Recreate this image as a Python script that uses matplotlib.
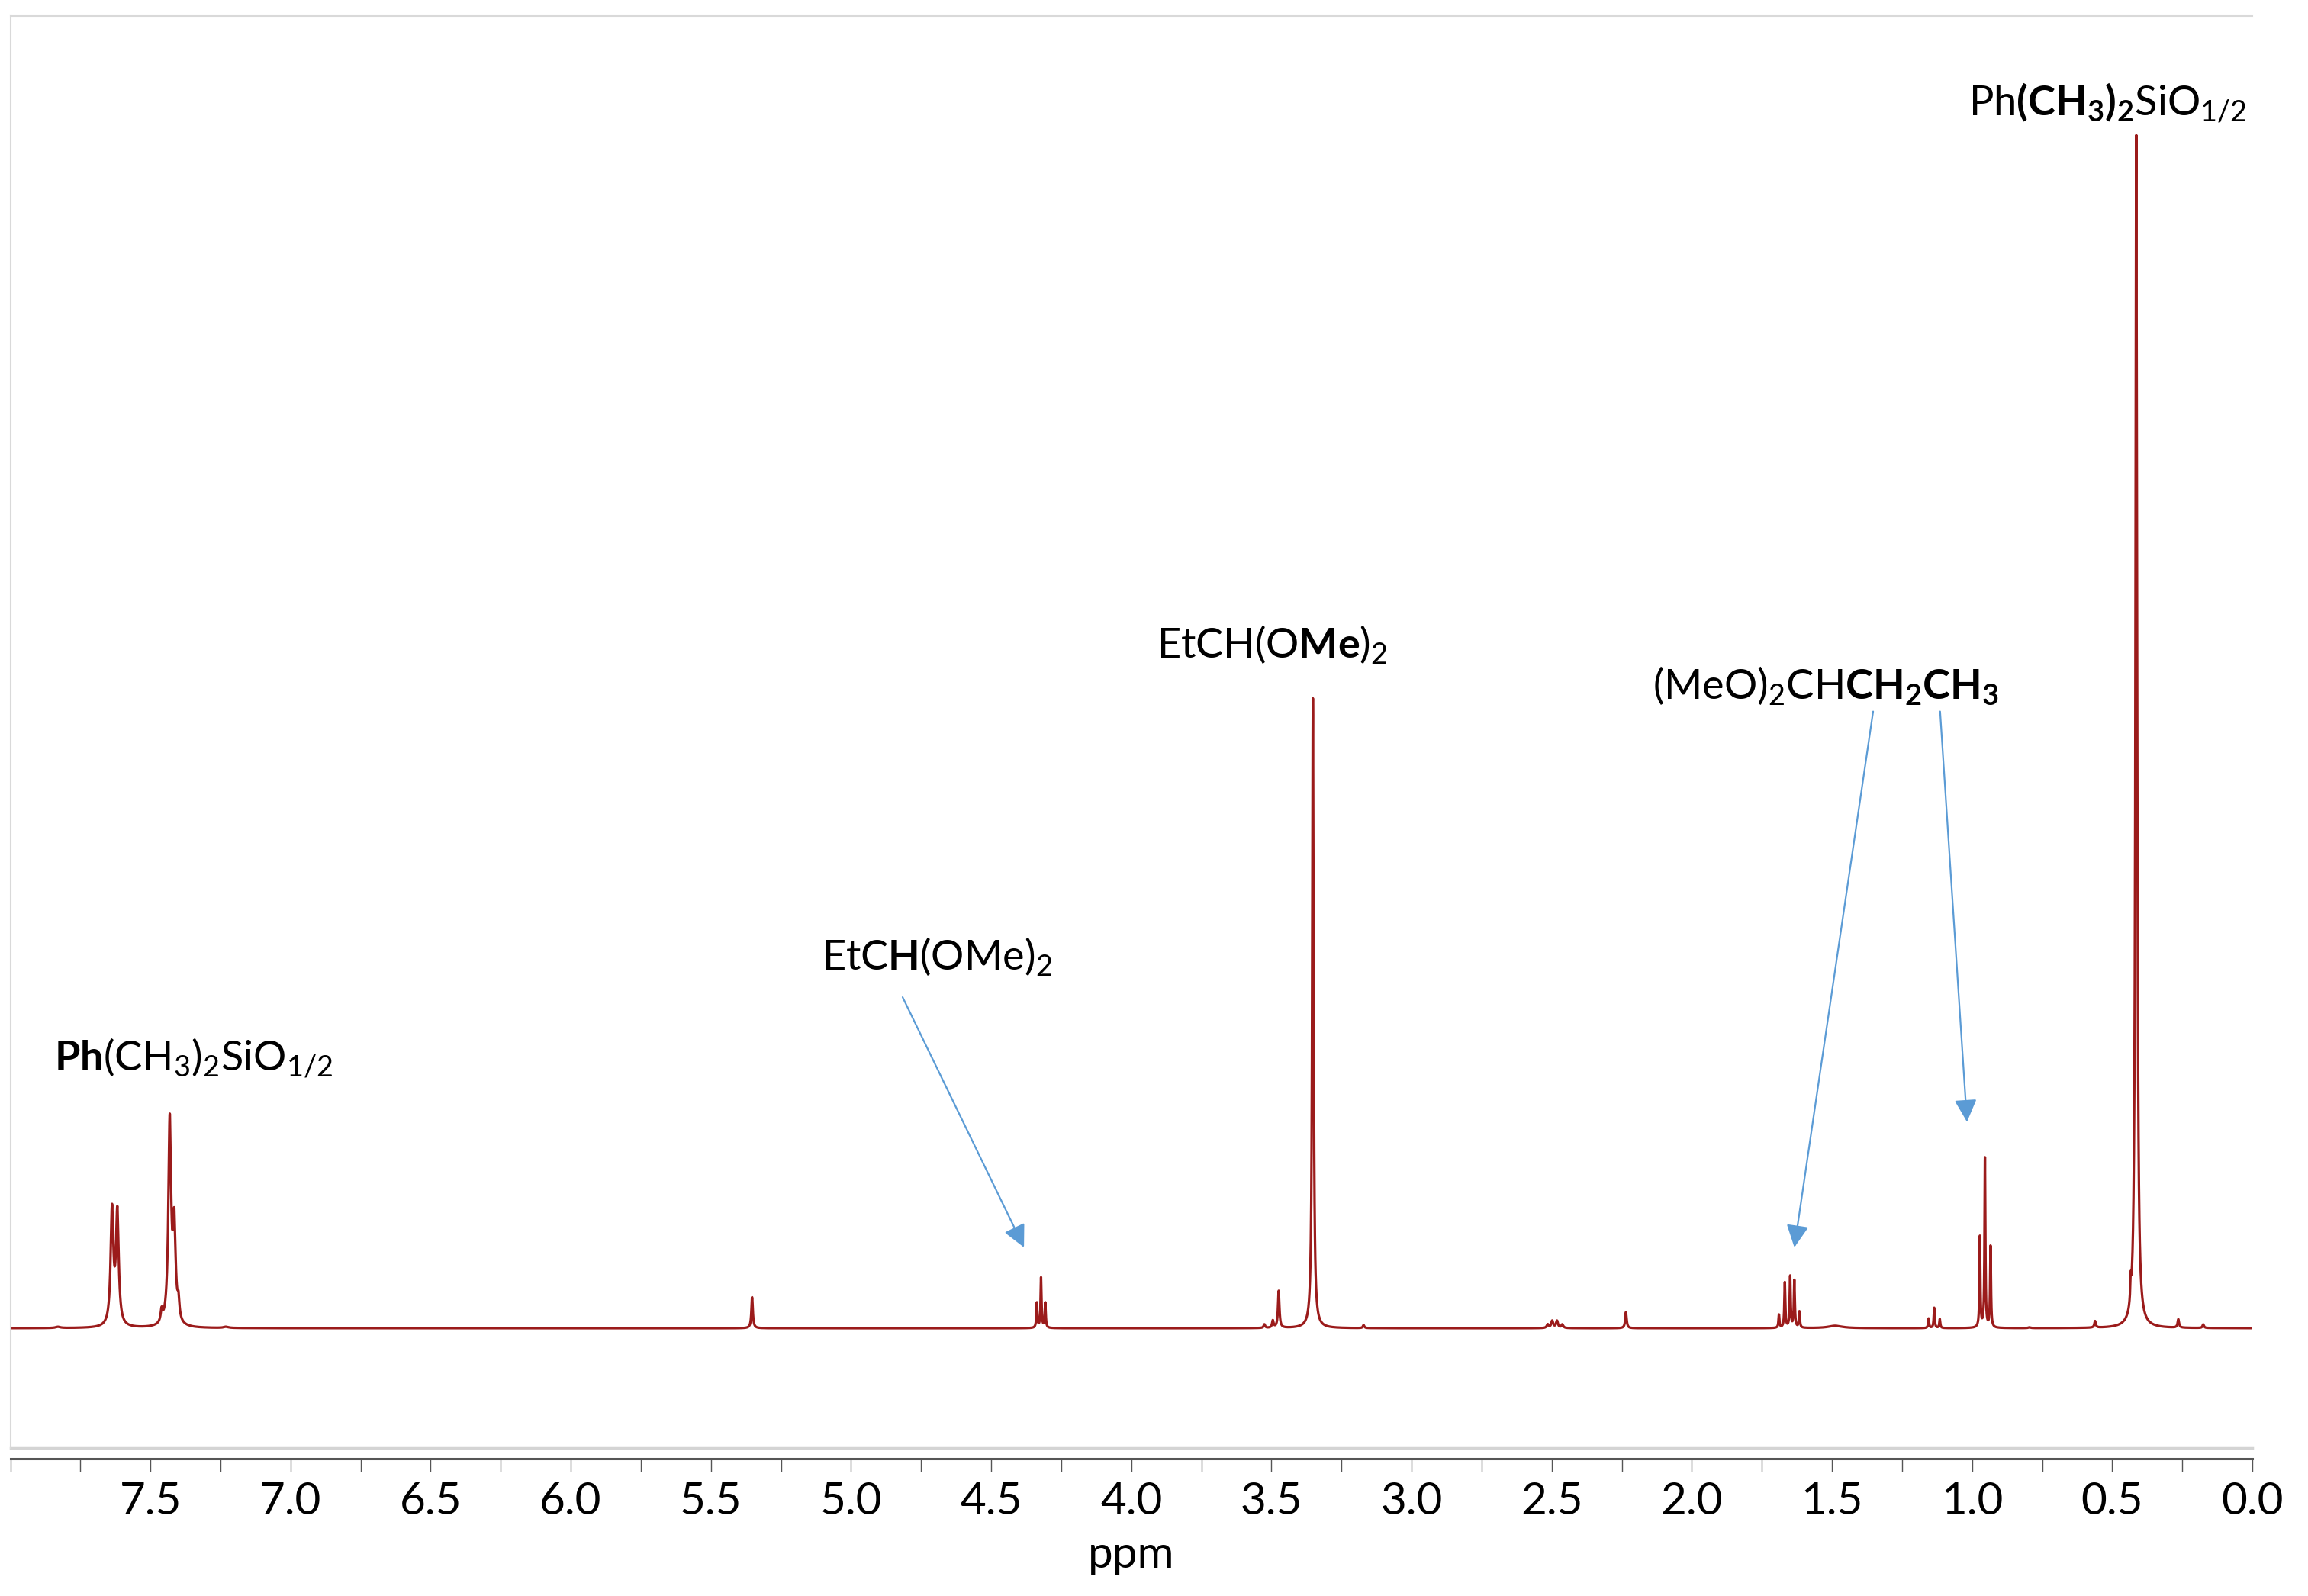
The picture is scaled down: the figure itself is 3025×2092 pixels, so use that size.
import numpy as np
import matplotlib
matplotlib.use("Agg")
import matplotlib.pyplot as plt

plt.rcParams['font.family'] = ['Lato', 'DejaVu Sans']
plt.rcParams['mathtext.fontset'] = 'custom'
plt.rcParams['mathtext.rm'] = 'Lato'
plt.rcParams['mathtext.bf'] = 'Lato:bold'
plt.rcParams['mathtext.it'] = 'Lato:italic'

# peak list: shift (ppm), height (% of largest), half width (ppm)
peak_ppm = [7.83, 7.637, 7.618, 7.46, 7.431, 7.415, 7.40, 7.23,
            5.353,
            4.337, 4.322, 4.307,
            3.525, 3.495, 3.474, 3.352, 3.171,
            2.514, 2.498, 2.481, 2.462, 2.235,
            1.689, 1.668, 1.649, 1.634, 1.616, 1.488,
            1.155, 1.135, 1.115,
            0.972, 0.954, 0.934, 0.795, 0.561,
            0.434, 0.414, 0.264, 0.175]
peak_height = [0.1, 9.6, 9.4, 1.0, 17.0, 8.0, 1.5, 0.1,
               2.6,
               2.1, 4.2, 2.1,
               0.3, 0.6, 3.1, 52.8, 0.25,
               0.3, 0.6, 0.6, 0.3, 1.35,
               1.1, 3.8, 4.3, 3.95, 1.35, 0.2,
               0.8, 1.7, 0.75,
               7.6, 14.2, 6.8, 0.06, 0.55,
               1.8, 100.0, 0.7, 0.3]
peak_width = [0.01, 0.0058, 0.0058, 0.004, 0.0058, 0.0058, 0.004, 0.01,
              0.003,
              0.002, 0.002, 0.002,
              0.003, 0.003, 0.003, 0.003, 0.003,
              0.004, 0.004, 0.004, 0.004, 0.003,
              0.002, 0.002, 0.002, 0.002, 0.002, 0.03,
              0.002, 0.002, 0.002,
              0.0018, 0.0018, 0.0018, 0.005, 0.003,
              0.0018, 0.0035, 0.003, 0.003]

tick_vals = np.arange(0.0, 8.01, 0.5)
minor_vals = np.arange(0.25, 8.0, 0.5)

labels = [
    r'$\mathbf{Ph}\mathrm{(CH_3)_2SiO_{1/2}}$',
    r'$\mathrm{EtC}\mathbf{H}\mathrm{(OMe)_2}$',
    r'$\mathrm{EtCH(O}\mathbf{Me}\mathrm{)_2}$',
    r'$\mathrm{(MeO)_2CH}\mathbf{CH_2CH_3}$',
    r'$\mathrm{Ph}\mathbf{(CH_3)_2}\mathrm{SiO_{1/2}}$',
]

x = np.linspace(0.0, 8.0, 32001)
y = np.zeros_like(x)
for p, h, g in zip(peak_ppm, peak_height, peak_width):
    y += h * g**2 / (g**2 + (x - p)**2)

fig = plt.figure(figsize=(30.25, 20.92), dpi=100)
ax = fig.add_axes([13.5 / 3025, 1 - 1898 / 2092, (2952 - 13.5) / 3025, (1898 - 21) / 2092])
ax.plot(x, y, color='#9b1b1b', lw=2.3)
ax.set_xlim(8.0, 0.0)
ax.set_ylim(-10.04, 110.0)

for s in ['top', 'left']:
    ax.spines[s].set_color('#d9d9d9')
    ax.spines[s].set_linewidth(1.5)
ax.spines['right'].set_visible(False)
ax.spines['bottom'].set_position(('outward', 10))
ax.spines['bottom'].set_color('#555555')
ax.spines['bottom'].set_linewidth(2.2)
ax.plot([0, 1], [0, 0], transform=ax.transAxes, color='#d4d4d4', lw=2.5, clip_on=False)

ax.set_yticks([])
ax.set_xticks(tick_vals)
ax.set_xticklabels(['' if v > 7.9 else '%.1f' % v for v in tick_vals])
ax.set_xticks(minor_vals, minor=True)
ax.tick_params(axis='x', which='both', direction='out', length=12, width=1.0,
               color='#555555', labelsize=42, pad=10)
ax.set_xlabel('ppm', fontsize=42, labelpad=12)

lab_pos = [(7.844, 21.6), (5.105, 30.0), (3.910, 56.2), (2.140, 52.75), (1.013, 101.7)]
for t, (lx, ly) in zip(labels, lab_pos):
    ax.text(lx, ly, t, fontsize=39, ha='left', va='baseline')

arrows = [((4.816, 27.75), (4.383, 6.78)),
          ((1.353, 51.7), (1.634, 6.78)),
          ((1.114, 51.7), (1.018, 17.3))]
for start, tip in arrows:
    ax.annotate('', xy=tip, xytext=start,
                arrowprops=dict(arrowstyle='-|>,head_length=0.4,head_width=0.2',
                                color='#5b9bd5', lw=1.6, mutation_scale=45,
                                shrinkA=0, shrinkB=0))

fig.savefig('out.png', dpi=100)
